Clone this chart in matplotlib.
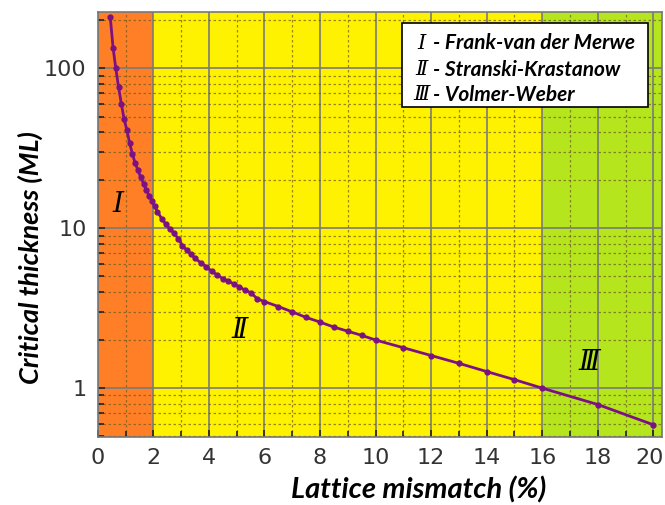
import matplotlib
matplotlib.use("Agg")
import matplotlib.pyplot as plt
import matplotlib.transforms as mtransforms
from matplotlib.patches import Rectangle
from matplotlib.ticker import LogLocator, NullFormatter, FixedLocator

# critical thickness vs lattice mismatch
mismatch = [0.45, 0.55, 0.65, 0.75, 0.85, 0.95, 1.05, 1.15, 1.25, 1.35, 1.45,
            1.55, 1.65, 1.75, 1.85, 1.95, 2.05, 2.15, 2.3, 2.45, 2.6, 2.75,
            2.9, 3.05, 3.2, 3.35, 3.5, 3.7, 3.9, 4.1, 4.3, 4.5, 4.7, 4.9,
            5.1, 5.3, 5.5, 5.75, 6.0, 6.5, 7.0, 7.5, 8.0, 8.5, 9.0, 9.5,
            10, 11, 12, 13, 14, 15, 16, 18, 20]
thickness = [210, 135, 100, 76, 60, 48, 41, 34, 29, 25.5, 23,
             20.8, 19, 17.3, 16, 14.8, 13.7, 12.7, 11.5, 10.6, 9.9, 9.3,
             8.6, 7.8, 7.3, 6.9, 6.5, 6.1, 5.75, 5.4, 5.1, 4.85, 4.65, 4.5,
             4.3, 4.1, 3.96, 3.62, 3.48, 3.24, 3.0, 2.77, 2.59, 2.41, 2.27, 2.14,
             2.0, 1.79, 1.6, 1.43, 1.27, 1.13, 1.0, 0.79, 0.59]

regions = [(0, 2, "#ff7f27"), (2, 16, "#fff200"), (16, 20.3, "#b5e61d")]
modes = ["Frank-van der Merwe", "Stranski-Krastanow", "Volmer-Weber"]
numerals = ["\u2160", "\u2161", "\u2162"]
xticks = list(range(0, 21, 2))

label_font = ["Lato", "DejaVu Sans"]
roman_font = ["DejaVu Serif", "DejaVu Sans"]

fig = plt.figure(figsize=(6.65, 5.05), dpi=100)
ax = fig.add_axes([0.147, 0.135, 0.848, 0.841])

for x0, x1, c in regions:
    ax.axvspan(x0, x1, color=c, zorder=0, lw=0)

ax.set_yscale("log")
ax.set_xlim(0, 20.3)
ax.set_ylim(0.496, 225)

ax.xaxis.set_major_locator(FixedLocator(xticks))
ax.xaxis.set_minor_locator(FixedLocator(range(1, 21, 2)))
ax.yaxis.set_major_locator(FixedLocator([1, 10, 100]))
ax.yaxis.set_minor_locator(LogLocator(base=10, subs=range(2, 10)))
ax.yaxis.set_minor_formatter(NullFormatter())
ax.set_yticklabels(["1", "10", "100"])

ax.grid(which="major", color="#7a7a7a", lw=1.2, ls="-", zorder=1)
ax.grid(which="minor", color="#6a5a20", lw=0.9, ls=(0, (2, 2)), alpha=0.7, zorder=1)
ax.set_axisbelow(True)

ax.tick_params(which="both", direction="in", colors="#222222", labelsize=16,
               top=False, right=False)
ax.tick_params(which="major", length=5, width=1.2, pad=8)
ax.tick_params(which="minor", length=4, width=1.2)
for t in ax.get_xticklabels() + ax.get_yticklabels():
    t.set_color("#333333")
# keep the last x label inside the figure
last = ax.get_xticklabels()[-1]
last.set_transform(last.get_transform() +
                   mtransforms.ScaledTranslation(-4 / 100, 0, fig.dpi_scale_trans))
for s in ax.spines.values():
    s.set_color("#777777")
    s.set_linewidth(1.2)

ax.plot(mismatch, thickness, color="#7b1183", lw=2, marker="o", ms=3.5,
        zorder=4)

ax.set_xlabel("Lattice mismatch (%)", fontsize=21, fontweight="bold",
              style="italic", family=label_font)
ax.set_ylabel("Critical thickness (ML)", fontsize=19.5, fontweight="bold",
              style="italic", family=label_font)
ax.xaxis.set_label_coords(0.569, -0.125)
ax.yaxis.set_label_coords(-0.12, 0.421)
ax.xaxis.label.set_va("center")
ax.yaxis.label.set_va("center")

# region labels
for (x, y), num in zip([(0.72, 14), (5.1, 2.3), (17.7, 1.45)], numerals):
    ax.text(x, y, num, fontsize=20, style="italic", family=roman_font,
            ha="center", va="center", zorder=5)

# legend box
ax.add_patch(Rectangle((0.539, 0.776), 0.436, 0.198, transform=ax.transAxes,
                       facecolor="white", edgecolor="black", lw=1.2, zorder=6))
for yy, num, name in zip([0.927, 0.864, 0.805], numerals, modes):
    ax.text(0.574, yy, num, transform=ax.transAxes, fontsize=15,
            style="italic", family=roman_font, ha="center", va="center",
            zorder=7)
    ax.text(0.594, yy, "- " + name, transform=ax.transAxes, fontsize=15,
            fontweight="bold", style="italic", family=label_font,
            ha="left", va="center", zorder=7)

fig.savefig("out.png", dpi=100)
